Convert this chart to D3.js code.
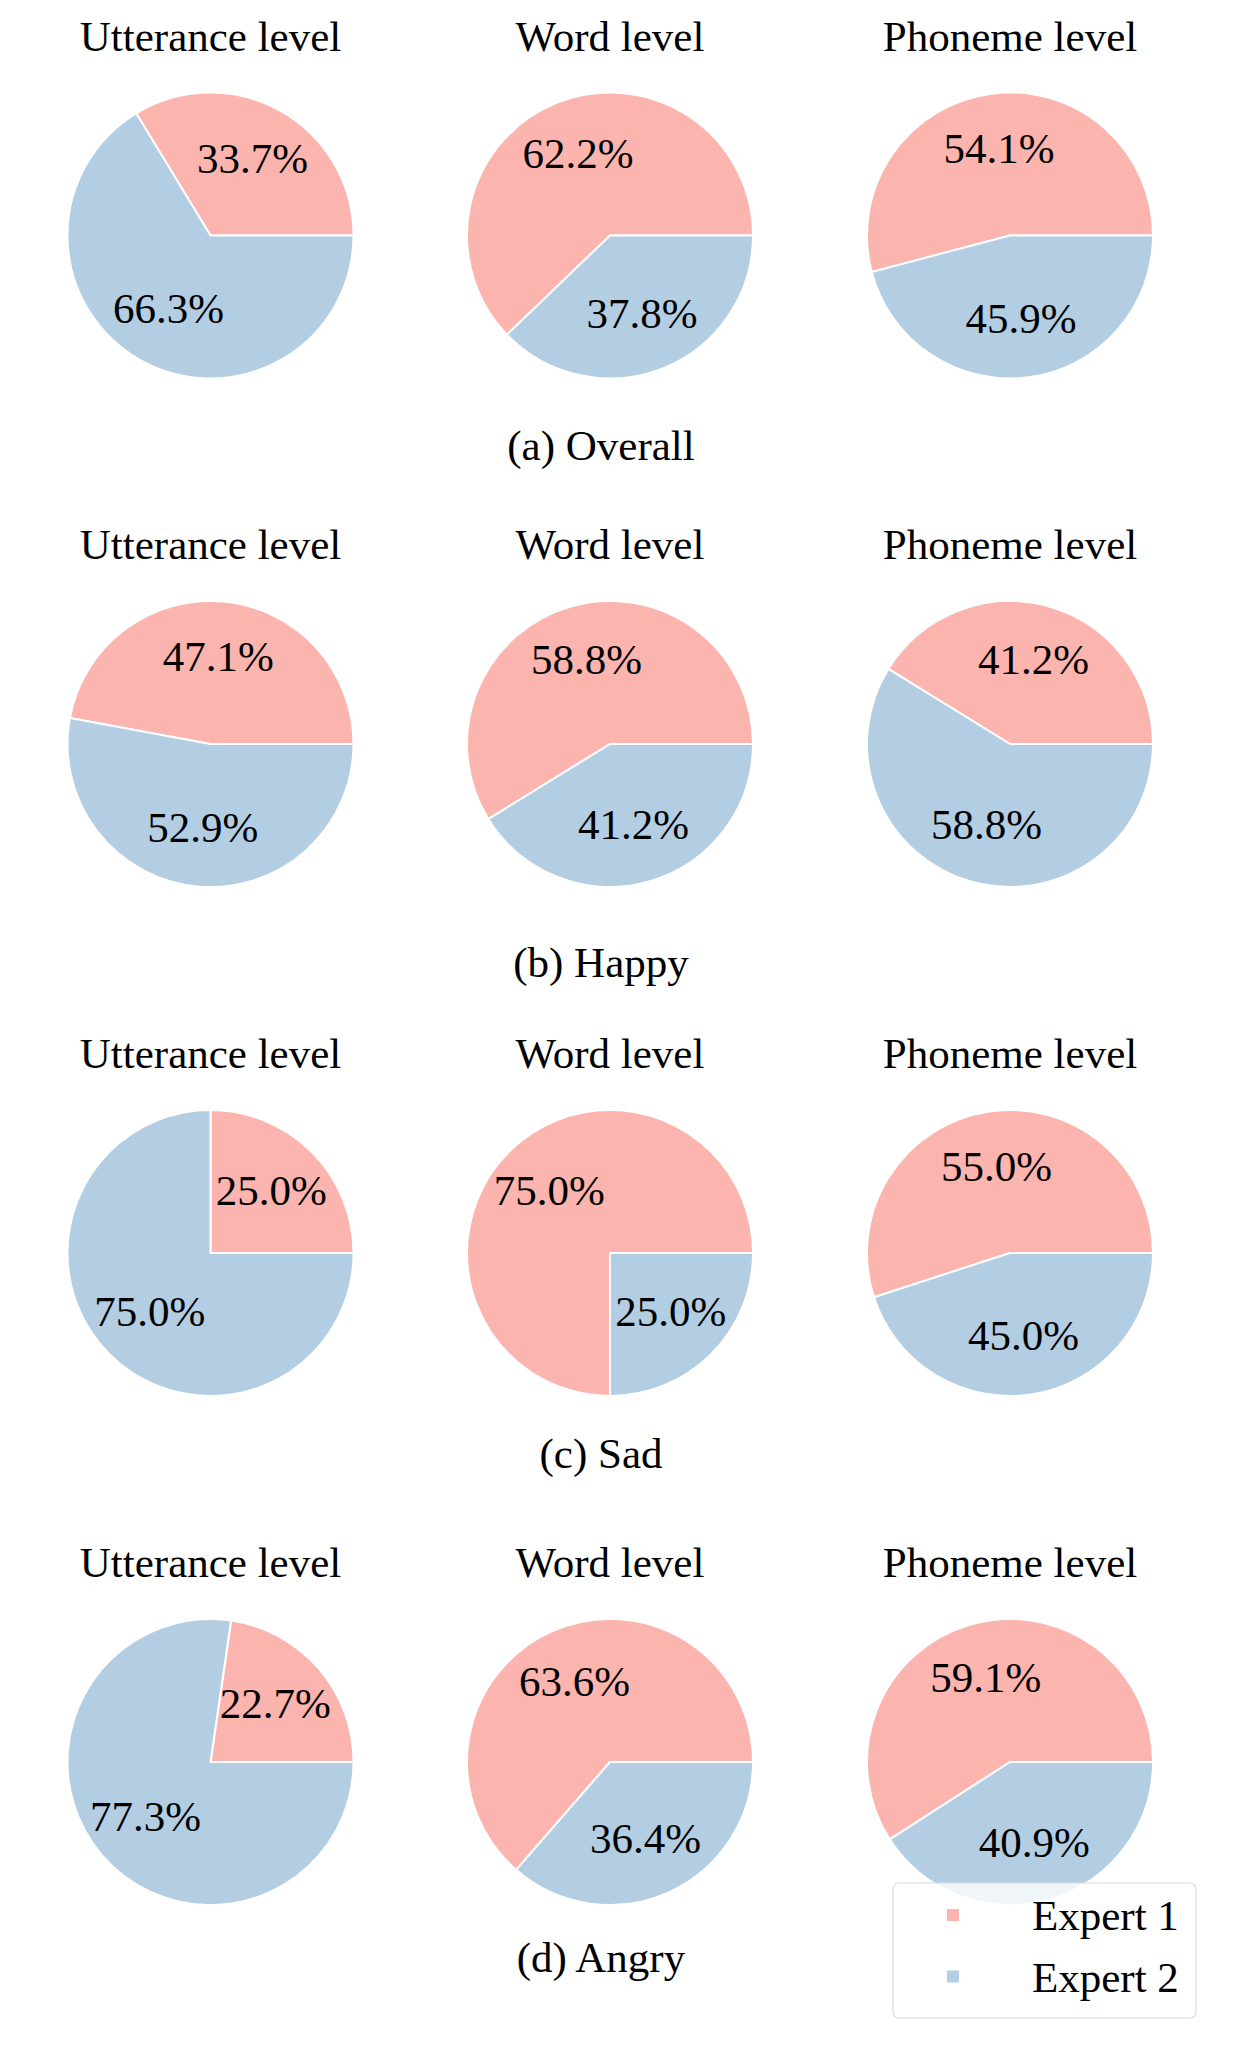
<!DOCTYPE html>
<html>
<head>
<meta charset="utf-8">
<script src="https://cdn.jsdelivr.net/npm/d3@7"></script>
<style>
  body { margin: 0; background: #fff; }
  text { font-family: "Liberation Serif", "Times New Roman", serif; fill: #000; }
</style>
</head>
<body>
<div id="chart"></div>
<script>
// Data
var levels = ["Utterance level", "Word level", "Phoneme level"]
var groups = ["(a) Overall", "(b) Happy", "(c) Sad", "(d) Angry"]
var legendKeys = ["Expert 1", "Expert 2"]
var expert1 = [[33.7, 62.2, 54.1], [47.1, 58.8, 41.2], [25.0, 75.0, 55.0], [22.7, 63.6, 59.1]]
var expert2 = [[66.3, 37.8, 45.9], [52.9, 41.2, 58.8], [75.0, 25.0, 45.0], [77.3, 36.4, 40.9]]

// Layout
var width = 1246
var height = 2055
var colX = [210.5, 610, 1010]
var rowY = [235.5, 744, 1253, 1762]
var captionY = [460, 977, 1468, 1972]
var captionX = 601
var radius = 143
var fontSize = 43
var colors = ["#fbb4ae", "#b3cde3"]

const svg = d3.select("#chart")
              .append("svg")
              .attr("width", width)
              .attr("height", height)

// matplotlib style: start at 3 o'clock, go counterclockwise
var pie = d3.pie().sort(null).value((d) => d)
            .startAngle(Math.PI / 2)
            .endAngle(Math.PI / 2 - 2 * Math.PI)

var arc = d3.arc().innerRadius(0).outerRadius(radius)
var labelArc = d3.arc().innerRadius(radius * 0.6).outerRadius(radius * 0.6)

groups.forEach(function(group, r) {
  levels.forEach(function(level, c) {
    var values = [expert1[r][c], expert2[r][c]]
    var g = svg.append("g")
               .attr("transform", "translate(" + colX[c] + "," + rowY[r] + ")")

    // subplot title
    g.append("text")
     .attr("x", 0)
     .attr("y", -185)
     .attr("text-anchor", "middle")
     .attr("font-size", fontSize)
     .text(level)

    g.selectAll(".slice")
     .data(pie(values))
     .enter()
     .append("path")
     .attr("class", "slice")
     .attr("d", arc)
     .attr("fill", (d, i) => colors[i])
     .attr("stroke", "#fff")
     .attr("stroke-width", 2)
     .attr("stroke-linejoin", "round")

    g.selectAll(".pct")
     .data(pie(values))
     .enter()
     .append("text")
     .attr("class", "pct")
     .attr("x", (d) => labelArc.centroid(d)[0])
     .attr("y", (d) => labelArc.centroid(d)[1] + 0.233 * fontSize + 2.5)
     .attr("text-anchor", "middle")
     .attr("font-size", fontSize)
     .text((d) => d.value.toFixed(1) + "%")
  })

  // group caption
  svg.append("text")
     .attr("x", captionX)
     .attr("y", captionY[r])
     .attr("text-anchor", "middle")
     .attr("font-size", fontSize)
     .text(group)
})

// Legend box (semi transparent, drawn over the last pie)
svg.append("rect")
   .attr("x", 893).attr("y", 1883)
   .attr("width", 303).attr("height", 135)
   .attr("rx", 6).attr("ry", 6)
   .attr("fill", "#fff").attr("fill-opacity", 0.8)
   .attr("stroke", "#dcdcdc").attr("stroke-width", 1.2)

var legend = svg.selectAll(".legendItem").data(legendKeys).enter()
                .append("g").attr("class", "legendItem")
                .attr("transform", (d, i) => "translate(953," + (1915 + i * 61.5) + ")")

legend.append("rect")
      .attr("x", -6).attr("y", -6)
      .attr("width", 12).attr("height", 12)
      .attr("fill", (d, i) => colors[i])

legend.append("text")
      .attr("x", 79).attr("y", 15)
      .attr("font-size", fontSize)
      .text((d) => d)
</script>
</body>
</html>
